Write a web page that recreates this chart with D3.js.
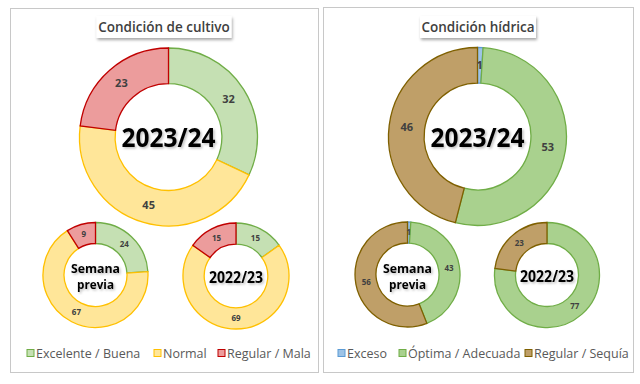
<!DOCTYPE html>
<html>
<head>
<meta charset="utf-8">
<script src="https://cdn.jsdelivr.net/npm/d3@7"></script>
<style>
  body { margin: 0; background: #fff; }
  svg text { font-family: "Open Sans", "Noto Sans", sans-serif; }
</style>
</head>
<body>
<div id="chart"></div>
<script>
var width = 640,
  height = 384;

// data
var cultivoCats = ["Excelente / Buena", "Normal", "Regular / Mala"];
var cultivoActual = [32, 45, 23];
var cultivoPrevia = [24, 67, 9];
var cultivoAnterior = [15, 69, 15];

var hidricaCats = ["Exceso", "Óptima / Adecuada", "Regular / Sequía"];
var hidricaActual = [1, 53, 46];
var hidricaPrevia = [1, 43, 56];
var hidricaAnterior = [0, 77, 23];

var cultivoFill = ["#c5e0b3", "#ffe699", "#ec9c9c"];
var cultivoStroke = ["#70ad47", "#ffc000", "#c00000"];
var hidricaFill = ["#9dc3e6", "#a9d18e", "#bf9f68"];
var hidricaStroke = ["#5b9bd5", "#70ad47", "#7f6000"];

var svg = d3.select("#chart").append("svg")
  .attr("width", width)
  .attr("height", height);

var defs = svg.append("defs");
var sh = defs.append("filter").attr("id", "shadow")
  .attr("x", "-20%").attr("y", "-30%").attr("width", "140%").attr("height", "180%");
sh.append("feDropShadow").attr("dx", 1).attr("dy", 2).attr("stdDeviation", 1.5)
  .attr("flood-color", "#000").attr("flood-opacity", 0.35);
var tsh = defs.append("filter").attr("id", "tshadow");
tsh.append("feDropShadow").attr("dx", 1.5).attr("dy", 1.5).attr("stdDeviation", 1)
  .attr("flood-color", "#000").attr("flood-opacity", 0.25);

// panels
svg.append("rect").attr("x", 10.5).attr("y", 8.5).attr("width", 308).attr("height", 364)
  .attr("fill", "#fff").attr("stroke", "#c8c8c8");
svg.append("rect").attr("x", 323.5).attr("y", 7.5).attr("width", 310).attr("height", 365)
  .attr("fill", "#fff").attr("stroke", "#c8c8c8");

function titleBox(cx, w, label) {
  svg.append("rect").attr("x", cx - w / 2).attr("y", 16).attr("width", w).attr("height", 22)
    .attr("fill", "#fff").attr("filter", "url(#shadow)");
  svg.append("text").attr("x", cx).attr("y", 32).attr("text-anchor", "middle")
    .attr("font-size", 13.5).attr("font-weight", 600).attr("fill", "#404040")
    .text(label);
}
titleBox(164, 135, "Condición  de cultivo");
titleBox(478, 116, "Condición  hídrica");

var pie = d3.pie().sort(null).value(function(d) { return d; });

function donut(values, cx, cy, r, fills, strokes, labelSize, center) {
  var inner = r * 0.6;
  var arc = d3.arc().innerRadius(inner).outerRadius(r);
  var labelArc = d3.arc().innerRadius((inner + r) / 2).outerRadius((inner + r) / 2);
  var g = svg.append("g").attr("transform", "translate(" + cx + "," + cy + ")");
  var arcs = pie(values);
  g.selectAll("path")
    .data(arcs)
    .enter().append("path")
      .attr("d", arc)
      .attr("fill", function(d, i) { return fills[i]; })
      .attr("stroke", function(d, i) { return strokes[i]; })
      .attr("stroke-width", 1.3)
      .attr("display", function(d) { return d.value > 0 ? null : "none"; });
  g.selectAll(".lbl")
    .data(arcs.filter(function(d) { return d.value > 0; }))
    .enter().append("text")
      .attr("class", "lbl")
      .attr("transform", function(d) { return "translate(" + labelArc.centroid(d) + ")"; })
      .attr("text-anchor", "middle")
      .attr("dy", "0.35em")
      .attr("font-size", labelSize)
      .attr("font-weight", 700)
      .attr("fill", "#404040")
      .text(function(d) { return d.value; });
  var lines = center.text;
  lines.forEach(function(s, i) {
    g.append("text").attr("text-anchor", "middle")
      .attr("font-family", "Roboto, sans-serif")
      .attr("font-weight", 700)
      .attr("font-size", center.size)
      .attr("fill", "#000")
      .attr("filter", "url(#tshadow)")
      .attr("x", 0)
      .attr("y", (i - (lines.length - 1) / 2) * center.gap + center.dy)
      .attr("dy", "0.36em")
      .attr("textLength", center.widths[i])
      .attr("lengthAdjust", "spacingAndGlyphs")
      .text(s);
  });
}

donut(cultivoActual, 168.5, 137, 89, cultivoFill, cultivoStroke, 11,
  {text: ["2023/24"], size: 26, gap: 0, widths: [94], dy: 1});
donut(cultivoPrevia, 95.5, 275, 52.5, cultivoFill, cultivoStroke, 8,
  {text: ["Semana", "previa"], size: 13, gap: 16, widths: [49, 37], dy: 1.5});
donut(cultivoAnterior, 236, 276, 53, cultivoFill, cultivoStroke, 8,
  {text: ["2022/23"], size: 16.5, gap: 0, widths: [54], dy: 1});

donut(hidricaActual, 477.5, 136.5, 89, hidricaFill, hidricaStroke, 11,
  {text: ["2023/24"], size: 26, gap: 0, widths: [94], dy: 1});
donut(hidricaPrevia, 407.5, 274.5, 52.5, hidricaFill, hidricaStroke, 8,
  {text: ["Semana", "previa"], size: 13, gap: 16, widths: [49, 37], dy: 1.5});
donut(hidricaAnterior, 547, 275, 52.5, hidricaFill, hidricaStroke, 8,
  {text: ["2022/23"], size: 16.5, gap: 0, widths: [54], dy: 1});

function legend(cats, xs, fills, strokes) {
  var lg = svg.append("g");
  cats.forEach(function(c, i) {
    lg.append("rect").attr("x", xs[i]).attr("y", 349.5).attr("width", 7).attr("height", 7)
      .attr("fill", fills[i]).attr("stroke", strokes[i]);
    lg.append("text").attr("x", xs[i] + 9).attr("y", 358)
      .attr("font-size", 12.5).attr("fill", "#595959")
      .text(c);
  });
}
legend(cultivoCats, [27, 154, 218], cultivoFill, cultivoStroke);
legend(hidricaCats, [338, 399, 525], hidricaFill, hidricaStroke);
</script>
</body>
</html>
